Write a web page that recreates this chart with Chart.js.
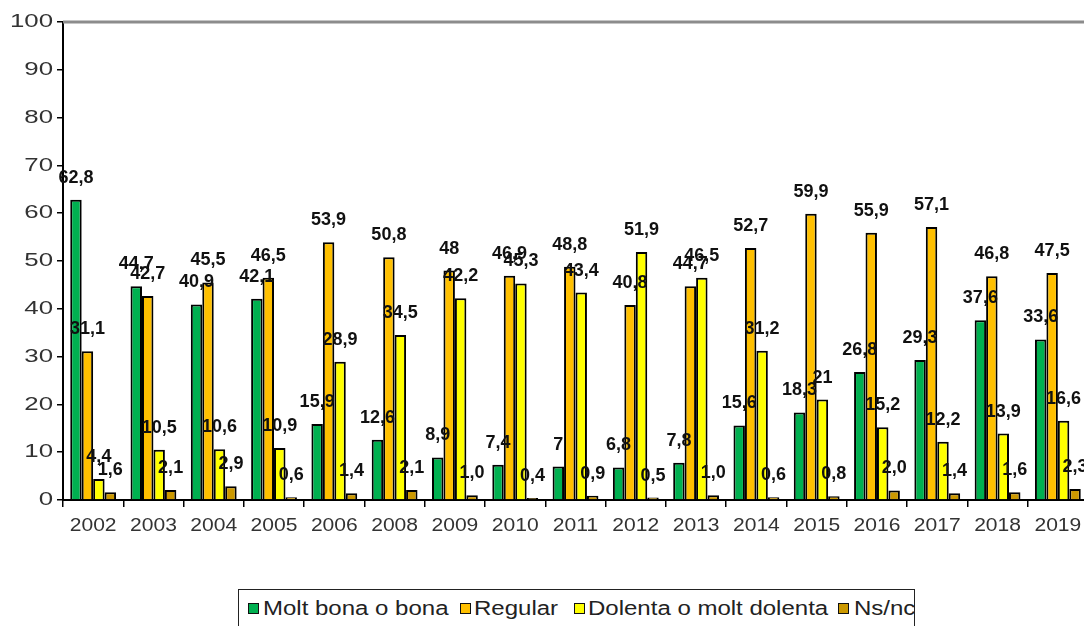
<!DOCTYPE html>
<html>
<head>
<meta charset="utf-8">
<script src="https://cdn.jsdelivr.net/npm/chart.js@4/dist/chart.umd.min.js"></script>
<style>
  html, body { margin: 0; padding: 0; background: #fff; width: 1084px; height: 626px; overflow: hidden; }
  #wrap { position: relative; width: 1084px; height: 626px; overflow: hidden; }
  #c { position: absolute; left: 0; top: 0; }
  #legend {
    position: absolute; left: 238px; top: 589px; width: 675px; height: 60px;
    border: 1px solid #222; overflow: hidden;
    font-family: Arial, "Liberation Sans", sans-serif; font-size: 20px; color: #222;
  }
  #legend .box {
    position: absolute; top: 13px; width: 9px; height: 9px; border: 1.5px solid #111;
  }
  #legend .txt {
    position: absolute; top: 6px; white-space: nowrap; line-height: 24px;
    transform: scaleX(1.2); transform-origin: 0 0;
  }
</style>
</head>
<body>
<div id="wrap">
  <canvas id="c" width="1090" height="560"></canvas>
  <div id="legend"></div>
</div>
<script>
const years = ['2002', '2003', '2004', '2005', '2006', '2008', '2009', '2010', '2011',
  '2012', '2013', '2014', '2015', '2016', '2017', '2018', '2019'];
const seriesNames = ['Molt bona o bona', 'Regular', 'Dolenta o molt dolenta', 'Ns/nc'];
const bona = [62.8, 44.7, 40.9, 42.1, 15.9, 12.6, 8.9, 7.4, 7, 6.8, 7.8, 15.6, 18.3, 26.8, 29.3, 37.6, 33.6];
const regular = [31.1, 42.7, 45.5, 46.5, 53.9, 50.8, 48, 46.9, 48.8, 40.8, 44.7, 52.7, 59.9, 55.9, 57.1, 46.8, 47.5];
const dolenta = [4.4, 10.5, 10.6, 10.9, 28.9, 34.5, 42.2, 45.3, 43.4, 51.9, 46.5, 31.2, 21, 15.2, 12.2, 13.9, 16.6];
const nsnc = [1.6, 2.1, 2.9, 0.6, 1.4, 2.1, 1.0, 0.4, 0.9, 0.5, 1.0, 0.6, 0.8, 2.0, 1.4, 1.6, 2.3];
const yTicks = [0, 10, 20, 30, 40, 50, 60, 70, 80, 90, 100];

const colors = ['#00B050', '#FFC000', '#FFFF00', '#CC9900'];
const seriesData = [bona, regular, dolenta, nsnc];
const FONT = 'Arial, "Liberation Sans", sans-serif';

// legend in html, cut off by its frame as in the original
const leg = document.getElementById('legend');
const boxX = [9, 221, 335, 599];
const txtX = [24, 235, 349, 615];
seriesNames.forEach((n, i) => {
  const b = document.createElement('div');
  b.className = 'box';
  b.style.left = boxX[i] + 'px';
  b.style.background = colors[i];
  leg.appendChild(b);
  const t = document.createElement('div');
  t.className = 'txt';
  t.style.left = txtX[i] + 'px';
  t.textContent = n;
  leg.appendChild(t);
});

function fmt(v, di) {
  if (di === 3) return v.toFixed(1).replace('.', ',');
  return String(v).replace('.', ',');
}

function stretchText(ctx, txt, x, y, sx) {
  ctx.save();
  ctx.translate(x, y);
  ctx.scale(sx, 1);
  ctx.fillText(txt, 0, 0);
  ctx.restore();
}

const labelPlugin = {
  id: 'barLabels',
  afterDatasetsDraw(chart) {
    const ctx = chart.ctx;
    ctx.save();
    ctx.font = 'bold 18px ' + FONT;
    ctx.fillStyle = '#111';
    ctx.textAlign = 'center';
    ctx.textBaseline = 'middle';
    chart.data.datasets.forEach((ds, di) => {
      chart.getDatasetMeta(di).data.forEach((bar, i) => {
        ctx.fillText(fmt(ds.data[i], di), bar.x, bar.y - 22);
      });
    });
    ctx.restore();
  }
};

// axis labels drawn by hand so they can be widened like the original
const axisLabels = {
  id: 'axisLabels',
  afterDraw(chart) {
    const ctx = chart.ctx, xs = chart.scales.x, ys = chart.scales.y;
    ctx.save();
    ctx.fillStyle = '#333';
    ctx.textBaseline = 'middle';
    ctx.font = '19px ' + FONT;
    ctx.textAlign = 'right';
    yTicks.forEach(v => stretchText(ctx, String(v), 53, ys.getPixelForValue(v), 1.36));
    ctx.font = '18px ' + FONT;
    ctx.textAlign = 'center';
    years.forEach((yr, i) => stretchText(ctx, yr, xs.getPixelForTick(i), 526, 1.17));
    ctx.restore();
  }
};

const topLine = {
  id: 'topLine',
  beforeDatasetsDraw(chart) {
    const a = chart.chartArea, ctx = chart.ctx;
    ctx.save();
    ctx.strokeStyle = '#8c8c8c';
    ctx.lineWidth = 3;
    ctx.beginPath();
    ctx.moveTo(a.left, a.top);
    ctx.lineTo(chart.width, a.top);
    ctx.stroke();
    ctx.restore();
  }
};

new Chart(document.getElementById('c'), {
  type: 'bar',
  data: {
    labels: years,
    datasets: seriesData.map((d, i) => ({
      label: seriesNames[i],
      data: d,
      backgroundColor: colors[i],
      borderColor: '#000',
      borderWidth: 2,
      borderSkipped: 'bottom',
      categoryPercentage: 0.76,
      barPercentage: 1.0
    }))
  },
  options: {
    responsive: false,
    animation: false,
    layout: { padding: { top: 22, right: 2, left: 0, bottom: 0 } },
    plugins: { legend: { display: false }, tooltip: { enabled: false } },
    scales: {
      x: {
        afterFit(s) { s.height = 60; },
        grid: { offset: true, drawOnChartArea: false, drawTicks: true, tickLength: 7, color: '#000', lineWidth: 1.5 },
        border: { color: '#000', width: 2 },
        ticks: { display: false, autoSkip: false }
      },
      y: {
        min: 0, max: 100,
        afterFit(s) { s.width = 63; },
        afterBuildTicks(s) { s.ticks = yTicks.map(v => ({ value: v })); },
        grid: { drawOnChartArea: false, drawTicks: true, tickLength: 6, color: '#000', lineWidth: 1.5 },
        border: { color: '#000', width: 2 },
        ticks: { display: false }
      }
    }
  },
  plugins: [topLine, labelPlugin, axisLabels]
});
</script>
</body>
</html>
